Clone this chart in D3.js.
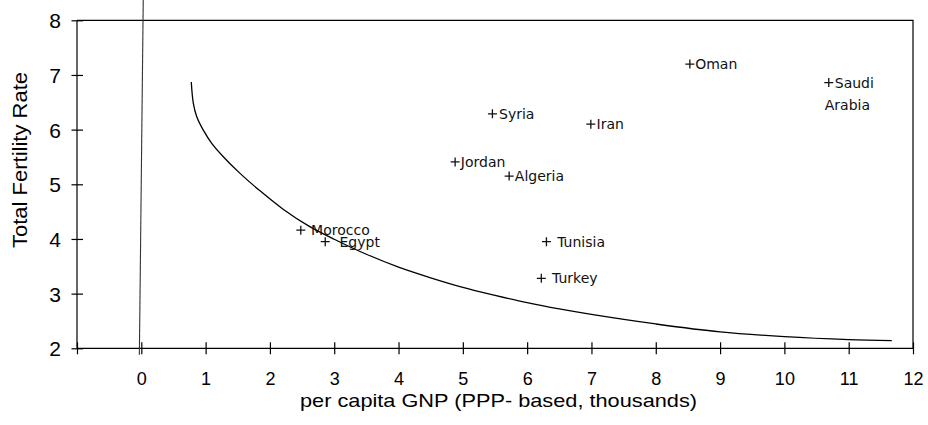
<!DOCTYPE html>
<html>
<head>
<meta charset="utf-8">
<script src="https://cdn.jsdelivr.net/npm/d3@7"></script>
<style>
  body { margin: 0; background: #fff; }
  svg { display: block; }
</style>
</head>
<body>
<svg id="chart" width="928" height="425"></svg>
<script>
// ---- data ----
const countries = ["Morocco", "Egypt", "Syria", "Iran", "Jordan", "Algeria", "Oman", "Saudi Arabia", "Tunisia", "Turkey"];
const gnp = [2.48, 2.86, 5.46, 6.99, 4.88, 5.72, 8.53, 10.69, 6.30, 6.22];
const tfr = [4.16, 3.95, 6.29, 6.10, 5.41, 5.15, 7.20, 6.86, 3.95, 3.28];
// fitted curve
const curveX = [0.777, 0.809, 0.861, 0.964, 1.095, 1.275, 1.535, 1.846, 2.21, 2.6, 3.0, 3.5, 4.0, 4.5, 5.0, 5.5, 6.0, 6.5, 7.0, 8.0, 9.0, 10.0, 11.0, 11.67];
const curveY = [6.87, 6.48, 6.24, 5.99, 5.75, 5.505, 5.20, 4.88, 4.54, 4.24, 3.995, 3.72, 3.485, 3.29, 3.115, 2.97, 2.835, 2.72, 2.62, 2.445, 2.30, 2.215, 2.16, 2.14];
// near-vertical line at x ~ 0
const vLineX = [-0.03, 0.03];
const vLineY = [1.88, 8.37];
const xTickValues = [-1, 0, 1, 2, 3, 4, 5, 6, 7, 8, 9, 10, 11, 12];
const xTickLabels = ["", "0", "1", "2", "3", "4", "5", "6", "7", "8", "9", "10", "11", "12"];
const yTickValues = [2, 3, 4, 5, 6, 7, 8];
const xTitle = "per capita GNP (PPP- based,  thousands)";
const yTitle = "Total Fertility Rate";

(function () {
// ---- layout ----
const svg = d3.select("#chart");
const mLeft = 77, mRight = 913, mTop = 20.3, mBottom = 348.3;
const x = d3.scaleLinear().domain([-1, 12]).range([mLeft, mRight]);
const y = d3.scaleLinear().domain([2, 8]).range([mBottom, mTop]);

// frame (top + right)
svg.append("path")
  .attr("d", `M${mLeft},${mTop}H${mRight}V${mBottom}`)
  .attr("fill", "none").attr("stroke", "#000").attr("stroke-width", 1.2);

// x axis
const xAxis = d3.axisBottom(x).tickValues(xTickValues).tickSize(6)
  .tickFormat((d, i) => xTickLabels[i]);
const gx = svg.append("g").attr("transform", `translate(0,${mBottom})`).call(xAxis);
gx.select(".domain").remove();
gx.append("line").attr("x1", mLeft).attr("x2", mRight).attr("stroke", "#000").attr("stroke-width", 1.2);
gx.selectAll(".tick line").attr("y1", -6).attr("y2", 6).attr("stroke", "#000").attr("stroke-width", 1.2);
gx.selectAll(".tick text")
  .attr("y", 0).attr("dy", null)
  .attr("transform", "translate(0,37)")
  .attr("fill", "#000")
  .style("font-family", "'Liberation Sans', Arial, sans-serif")
  .style("font-size", "18px");

// y axis
const yAxis = d3.axisLeft(y).tickValues(yTickValues).tickSize(6).tickFormat(d3.format("d"));
const gy = svg.append("g").attr("transform", `translate(${mLeft},0)`).call(yAxis);
gy.select(".domain").remove();
gy.append("line").attr("y1", mTop).attr("y2", mBottom).attr("stroke", "#000").attr("stroke-width", 1.2);
gy.selectAll(".tick line").attr("x1", -5.5).attr("x2", 6).attr("stroke", "#000").attr("stroke-width", 1.2);
gy.selectAll(".tick text")
  .attr("x", -16).attr("dy", "0.36em")
  .attr("fill", "#000")
  .style("font-family", "'Liberation Sans', Arial, sans-serif")
  .style("font-size", "21px");

// axis titles
svg.append("text")
  .attr("x", 498.5).attr("y", 406.5)
  .attr("text-anchor", "middle")
  .attr("textLength", 397).attr("lengthAdjust", "spacingAndGlyphs")
  .style("font-family", "'Liberation Sans', Arial, sans-serif")
  .style("font-size", "19px")
  .text(xTitle);

svg.append("text")
  .attr("transform", "translate(26.7,160) rotate(-90)")
  .attr("text-anchor", "middle")
  .attr("textLength", 176).attr("lengthAdjust", "spacingAndGlyphs")
  .style("font-family", "'Liberation Sans', Arial, sans-serif")
  .style("font-size", "21px")
  .text(yTitle);

// near-vertical line
const lineGen = d3.line().x(d => x(d[0])).y(d => y(d[1]));
svg.append("path")
  .attr("d", lineGen(vLineX.map((v, i) => [v, vLineY[i]])))
  .attr("fill", "none").attr("stroke", "#333").attr("stroke-width", 1.1);

// fitted curve
svg.append("path")
  .attr("d", d3.line().x(d => x(d[0])).y(d => y(d[1])).curve(d3.curveCatmullRom.alpha(0.5))(curveX.map((v, i) => [v, curveY[i]])))
  .attr("fill", "none").attr("stroke", "#000").attr("stroke-width", 1.3);

// markers
const pts = countries.map((c, i) => ({ name: c, gx: gnp[i], fy: tfr[i] }));
const s = 4.5;
svg.append("g").selectAll("path").data(pts).join("path")
  .attr("d", d => {
    const px = x(d.gx), py = y(d.fy);
    return `M${px - s},${py}H${px + s}M${px},${py - s}V${py + s}`;
  })
  .attr("stroke", "#111").attr("stroke-width", 1.3);

// labels
const labelDx = { "Morocco": 10.3, "Egypt": 14.3, "Syria": 6.6, "Iran": 5.7, "Jordan": 5.7, "Algeria": 5.7,
  "Oman": 5.3, "Saudi Arabia": 6, "Tunisia": 10.7, "Turkey": 10.7 };
const lab = svg.append("g")
  .style("font-family", "'DejaVu Sans', Verdana, sans-serif")
  .style("font-size", "14px")
  .attr("fill", "#111");
pts.forEach(d => {
  const px = x(d.gx), py = y(d.fy);
  if (d.name === "Saudi Arabia") {
    lab.append("text").attr("x", px + labelDx[d.name]).attr("y", py + 5).text("Saudi");
    lab.append("text").attr("x", px - 4).attr("y", py + 27).text("Arabia");
  } else {
    lab.append("text").attr("x", px + labelDx[d.name]).attr("y", py + 5).text(d.name);
  }
});
})();
</script>
</body>
</html>
